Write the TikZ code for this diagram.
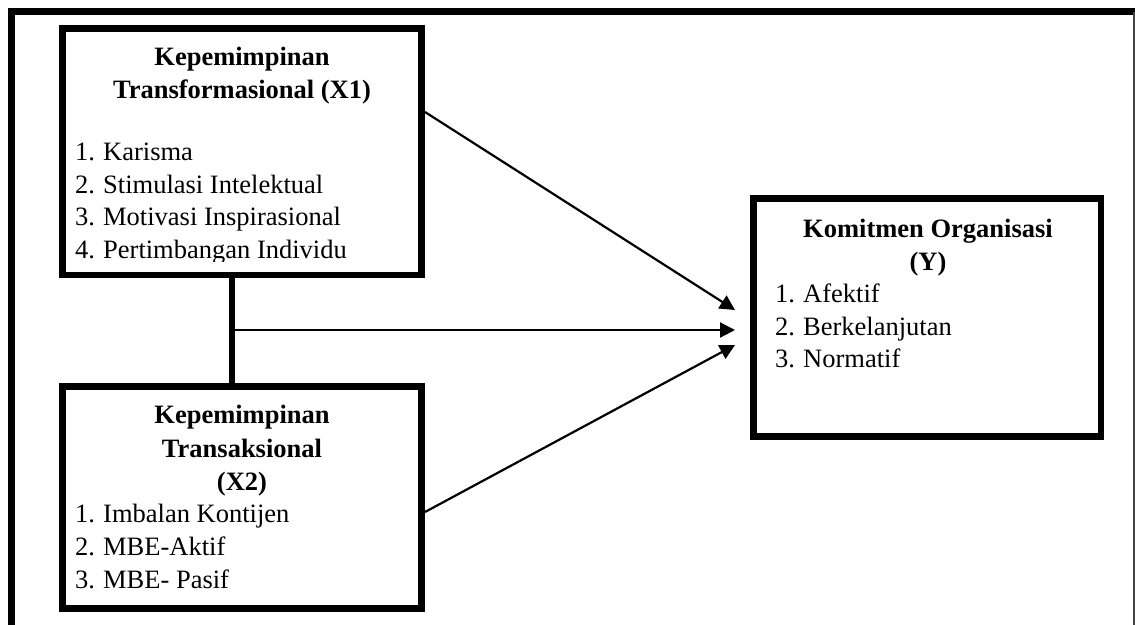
\documentclass[tikz,border=0pt]{standalone}
\usepackage{fontspec}
\setmainfont{Liberation Serif}
\usetikzlibrary{arrows.meta}
\newcommand{\numitem}[2]{\makebox[28pt][l]{#1}#2}
\begin{document}
\begin{tikzpicture}[x=1pt,y=-1pt,
  box/.style={draw, line width=6.5pt, rectangle, inner sep=0pt, fill=white},
  txt/.style={anchor=base west, inner sep=0pt, font=\fontsize{26.5}{32.5}\selectfont},
  ttl/.style={anchor=base, inner sep=0pt, font=\fontsize{26.5}{32.5}\selectfont\bfseries},
  arr/.style={line width=2.2pt, -{Triangle[length=15pt,width=15pt]}},
  link/.style={line width=6pt}]
\useasboundingbox (0,0) rectangle (1135,624);
\begin{scope}
\clip (0,0) rectangle (1135,624);
% outer frame
\draw[line width=7pt] (11.5,700) -- (11.5,11.5) -- (1140,11.5);
\draw[line width=1.6pt, black!75] (1134.2,11.5) -- (1134.2,700);
\end{scope}
% boxes
\node[box, minimum width=359pt, minimum height=246.5pt] (x1) at (242,151.75) {};
\node[box, minimum width=359pt, minimum height=222pt] (x2) at (242,497.5) {};
\node[box, minimum width=347.5pt, minimum height=238pt] (y) at (927.25,317.5) {};
% link between X1 and X2
\draw[link] ([xshift=-10pt]x1.south) -- ([xshift=-10pt]x2.north);
\coordinate (j) at (232,330);
% arrow tips
\coordinate (t1) at (735,310);
\coordinate (t2) at (735,330);
\coordinate (t3) at (735,345);
\coordinate (s1) at (425,112);
\coordinate (s3) at (425,512);
\draw[arr] (s1) -- (t1);
\draw[arr] (j) -- (t2);
\draw[arr] (s3) -- (t3);
% X1 text
\node[ttl] (x1t1) at (242,65) {Kepemimpinan};
\node[ttl] (x1t2) at (242,98) {Transformasional (X1)};
\begin{scope}
\clip (66,32) rectangle (418,261);
\node[txt] (x1i1) at (75,160) {\numitem{1.}{Karisma}};
\node[txt] (x1i2) at (75,193) {\numitem{2.}{Stimulasi Intelektual}};
\node[txt] (x1i3) at (75,225.5) {\numitem{3.}{Motivasi Inspirasional}};
\node[txt] (x1i4) at (75,258.5) {\numitem{4.}{Pertimbangan Individu}};
\end{scope}
% X2 text
\node[ttl] (x2t1) at (242,423) {Kepemimpinan};
\node[ttl] (x2t2) at (242,457) {Transaksional};
\node[ttl] (x2t3) at (242,490) {(X2)};
\node[txt] (x2i1) at (75,522) {\numitem{1.}{Imbalan Kontijen}};
\node[txt] (x2i2) at (75,555) {\numitem{2.}{MBE-Aktif}};
\node[txt] (x2i3) at (75,588) {\numitem{3.}{MBE- Pasif}};
% Y text
\node[ttl] (yt1) at (928,237) {Komitmen Organisasi};
\node[ttl] (yt2) at (928,270) {(Y)};
\node[txt] (yi1) at (775,302) {\numitem{1.}{Afektif}};
\node[txt] (yi2) at (775,335) {\numitem{2.}{Berkelanjutan}};
\node[txt] (yi3) at (775,367) {\numitem{3.}{Normatif}};
\end{tikzpicture}
\end{document}
